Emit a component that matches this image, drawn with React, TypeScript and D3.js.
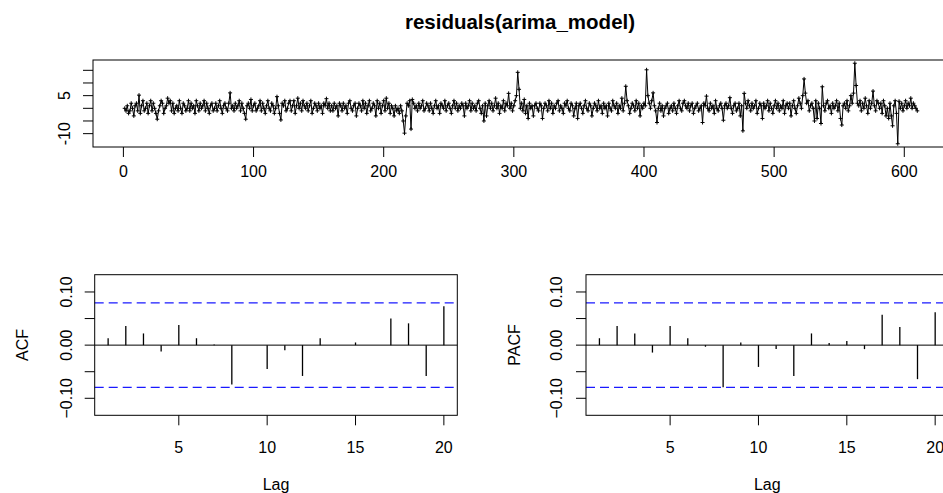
import * as d3 from 'd3';

const title = 'residuals(arima_model)';

// residual series (t = 1..610)
const residuals = [
  0, -1, 1, -2, -1, 2, 0, -3, 1, 2,
  -1, 5.2, -2, 1, 3, -1, 0, 2, -2, 1,
  3, -1, 2, 0, -2, -4.3, -1, 1, 3, 2,
  -2, 0, 1, 4, 2, 3, -1, 2, -2, 0,
  1, -1, 3, 0, -2, 2, 1, -1, 0, 3,
  -1, 2, 0, 1, -2, 3, 1, -1, 2, 0,
  1, 3, -1, 2, 0, -2, 1, 2, -1, 0,
  2, -1, 1, 3, 0, -2, 1, 2, 0, -1,
  2, 6.1, 0, 1, -1, 2, 0, 1, 3, -1,
  2, 0, -2, -4.3, 1, 2, 0, 3.5, -1, 1,
  2, -1, 0, 1, 3, -1, 2, 0, -2, 1,
  3, 0, -1, 2, 1, -2, 0, 4.6, 1, -2,
  -4.6, 2, 1, 3, -1, 0, 2, 3, -1, 1,
  3, -2, 1, 4, 0, 2, -1, 3, 1, 0,
  2, -1, 1, 3, -2, 0, 2, 1, -1, 2,
  0, 1, -2, 2, 1, 3.8, 0, 2, -1, 1,
  -1, 2, 0, 1, -3, 2, 1, -1, 2, 0,
  1, -2, 2, 3, 0, -1, 1, 2, -3, 0,
  2, 1, -1, 3, 0, 2, -2, 1, 3, -1,
  0, 2, 1, -3, 3, 0, 2, -2, 1, 3,
  -1, 4, 0, 2, -2, 1, 0, -3, 1, -1,
  0, -2, 1, -1, -5, -9.8, -3, 2, 1, 3,
  -8.2, 3.5, 2, 0, 1, -1, 2, 0, 1, 3,
  -1, 0, 2, 1, -1, 2, 0, -2, 1, 3,
  0, 1, -2, 2, 1, 0, 3, -1, 1, 2,
  0, -2, 1, 3, 0, 2, -1, 1, 0, 2,
  1, -3, 2, 0, 1, 3, -1, 2, 0, 1,
  -1, 2, 3, 0, -2, 1, -5, 2, -3, 1,
  3, 0, 2, -1, 1, 4, 0, 2, -2, 1,
  0, 3, -1, 2, 1, 5.9, 0, 2, -1, 1,
  3, 5, 14.2, 7.5, 0, 2, -1, 3.5, -2, 1,
  -4, 2, 0, 1, -3, 1, 2, 0, -1, 2,
  1, -4, 0, 2, 1, -1, 3, 0, 2, -2,
  1, 0, 2, 3, -1, 1, 0, -2, 2, 1,
  3, 0, -1, 2, 1, -3, 0, 2, -4, 1,
  2, 0, -2, 1, 3, 0, -1, 2, 1, -3,
  0, 2, 1, -1, 3, 0, 1, -2, 2, 0,
  1, -3, 2, 0, -1, 3, 1, 0, 2, -2,
  1, 0, 4, -1, 2, 8.7, 3, 1, -2, 0,
  2, 1, -1, 3, 0, 2, -3, 1, 0, 2,
  1, 15.2, 5, 2, 0, 3, 6.1, 1, -1, -5.6,
  0, 2, -1, 1, -3, 0, 1, 2, -2, 0,
  1, -1, 2, 0, -2, 1, 3, 0, -1, 2,
  3, 1, 0, 2, -1, 1, 2, -2, 0, 1,
  2, -1, 0, 1, -5.6, 2, 1, 4.8, 0, -1,
  2, 0, 1, -2, 3, 0, -1, 1, 2, 0,
  -4.7, 1, 2, 0, 1, 4.2, 0, -2, 1, 2,
  -1, 0, 2, -3, 1, -8.9, 5.9, 2, 0, 3,
  1, -1, 2, 0, 1, 3, -2, 0, 2, 1,
  -4, 2, 0, 1, 3, -1, 2, 0, -2, 1,
  3, 0, 2, -1, 1, 0, 3, -2, 1, 2,
  0, 2, -3, 1, 3, 0, -2, 1, 4, 2,
  0, 5, 11.6, 6, 2, 3, -1, 1, 2, 0,
  -5, 3, -4, 2, 0, -6, 8.5, 1, -1, 2,
  3, 0, 1, -2, 2, 0, 1, 3, -1, 2,
  -4, -6.6, 1, 2, 0, 3, -1, 1, 5, 2,
  6, 17.8, 9, 2, 1, 3, -1, 2, 0, 4,
  1, -2, 3, 0, 2, 6.8, 1, -1, 3, 2,
  0, 2, -2, 3, 1, -3, 0, -4, 2, -3,
  -6.9, 1, 3, -2, -14, 2.8, 0, 2, -1, 1,
  3, 0, 2, 1, 4, 0, 2, 1, 0, -1,
];

const lags = [1, 2, 3, 4, 5, 6, 7, 8, 9, 10, 11, 12, 13, 14, 15, 16, 17, 18, 19, 20];
const acfValues = [0.013, 0.036, 0.022, -0.012, 0.038, 0.013, 0.001, -0.074, 0.0, -0.045,
  -0.0095, -0.058, 0.013, 0.0, 0.005, 0.0, 0.05, 0.041, -0.058, 0.073];
const pacfValues = [0.013, 0.036, 0.022, -0.014, 0.036, 0.013, -0.003, -0.079, 0.005, -0.041,
  -0.0075, -0.058, 0.022, 0.004, 0.008, -0.0075, 0.057, 0.034, -0.064, 0.062];

const topXTicks = [0, 100, 200, 300, 400, 500, 600];
const topYTicks = [-10, -5, 0, 5, 10, 15];
const topYLabels = [-10, 5];
const lagTicks = [5, 10, 15, 20];
const corrTicks = [-0.1, -0.05, 0, 0.05, 0.1];
const corrLabels = [-0.1, 0, 0.1];
const corrLim = [-0.132, 0.1325];

const font = 'Liberation Sans, Arial, sans-serif';
const W = 943;
const H = 493;

function TopPanel() {
    const n = residuals.length;
    const box = { l: 93, r: 949, t: 60, b: 147 };
    const padX = 0.04 * (n - 1);
    const x = d3.scaleLinear().domain([1 - padX, n + padX]).range([box.l, box.r]);
    const [lo, hi] = d3.extent(residuals) as [number, number];
    const padY = 0.04 * (hi - lo);
    const y = d3.scaleLinear().domain([lo - padY, hi + padY]).range([box.b, box.t]);

    const line = d3.line<number>()
        .x((_, i) => x(i + 1))
        .y(d => y(d));

    return (
        <g>
            <path d={line(residuals) || ''} fill="none" stroke="black" strokeWidth={1} />
            {residuals.map((d, i) => (
                <path key={i}
                    d={`M${x(i + 1) - 2},${y(d)}h4M${x(i + 1)},${y(d) - 2}v4`}
                    stroke="black" strokeWidth={1} />
            ))}
            <rect x={box.l} y={box.t} width={box.r - box.l} height={box.b - box.t}
                fill="none" stroke="black" strokeWidth={1} />
            {topXTicks.map(t => (
                <g key={t}>
                    <line x1={x(t)} x2={x(t)} y1={box.b} y2={box.b + 10} stroke="black" />
                    <text x={x(t)} y={177} textAnchor="middle" fontSize={16} fontFamily={font}>{t}</text>
                </g>
            ))}
            {topYTicks.map(t => (
                <line key={t} x1={box.l - 10} x2={box.l} y1={y(t)} y2={y(t)} stroke="black" />
            ))}
            {topYLabels.map(t => (
                <text key={t} transform={`translate(70,${y(t)}) rotate(-90)`} textAnchor="middle"
                    fontSize={16} fontFamily={font}>{t}</text>
            ))}
        </g>
    );
}

function CorrPanel({ values, label, left, right, tickLabelX, labelX }:
    { values: number[]; label: string; left: number; right: number; tickLabelX: number; labelX: number }) {
    const box = { l: left, r: right, t: 274.7, b: 415.3 };
    const x = d3.scaleLinear().domain([0.24, 20.76]).range([box.l, box.r]);
    const y = d3.scaleLinear().domain(corrLim).range([box.b, box.t]);
    const ci = 1.96 / Math.sqrt(residuals.length);

    return (
        <g>
            <line x1={box.l} x2={box.r} y1={y(0)} y2={y(0)} stroke="black" strokeWidth={1} />
            {values.map((v, i) => (
                <line key={i} x1={x(lags[i])} x2={x(lags[i])} y1={y(0)} y2={y(v)}
                    stroke="black" strokeWidth={1.3} />
            ))}
            {[ci, -ci].map(c => (
                <line key={c} x1={box.l} x2={box.r} y1={y(c)} y2={y(c)}
                    stroke="#1a1aff" strokeWidth={1.2} strokeDasharray="9,5" />
            ))}
            <rect x={box.l} y={box.t} width={box.r - box.l} height={box.b - box.t}
                fill="none" stroke="black" strokeWidth={1} />
            {lagTicks.map(t => (
                <g key={t}>
                    <line x1={x(t)} x2={x(t)} y1={box.b} y2={box.b + 10} stroke="black" />
                    <text x={x(t)} y={452.5} textAnchor="middle" fontSize={16} fontFamily={font}>{t}</text>
                </g>
            ))}
            {corrTicks.map(t => (
                <line key={t} x1={box.l - 10} x2={box.l} y1={y(t)} y2={y(t)} stroke="black" />
            ))}
            {corrLabels.map(t => (
                <text key={t} transform={`translate(${tickLabelX},${y(t)}) rotate(-90)`} textAnchor="middle"
                    fontSize={16} fontFamily={font}>{d3.format('.2f')(t)}</text>
            ))}
            <text transform={`translate(${labelX},${(box.t + box.b) / 2}) rotate(-90)`} textAnchor="middle"
                fontSize={16} fontFamily={font}>{label}</text>
            <text x={(box.l + box.r) / 2} y={490} textAnchor="middle"
                fontSize={16} fontFamily={font}>Lag</text>
        </g>
    );
}

export default function App() {
    return (
        <svg width={W} height={H} style={{ position: 'absolute', left: 0, top: 0, background: 'white' }}>
            <text x={520} y={29} textAnchor="middle" fontSize={20.5} fontWeight="bold" fontFamily={font}>{title}</text>
            <TopPanel />
            <CorrPanel values={acfValues} label="ACF" left={94.7} right={457.3} tickLabelX={72} labelX={28} />
            <CorrPanel values={pacfValues} label="PACF" left={586} right={948.6} tickLabelX={562} labelX={520} />
        </svg>
    );
}
